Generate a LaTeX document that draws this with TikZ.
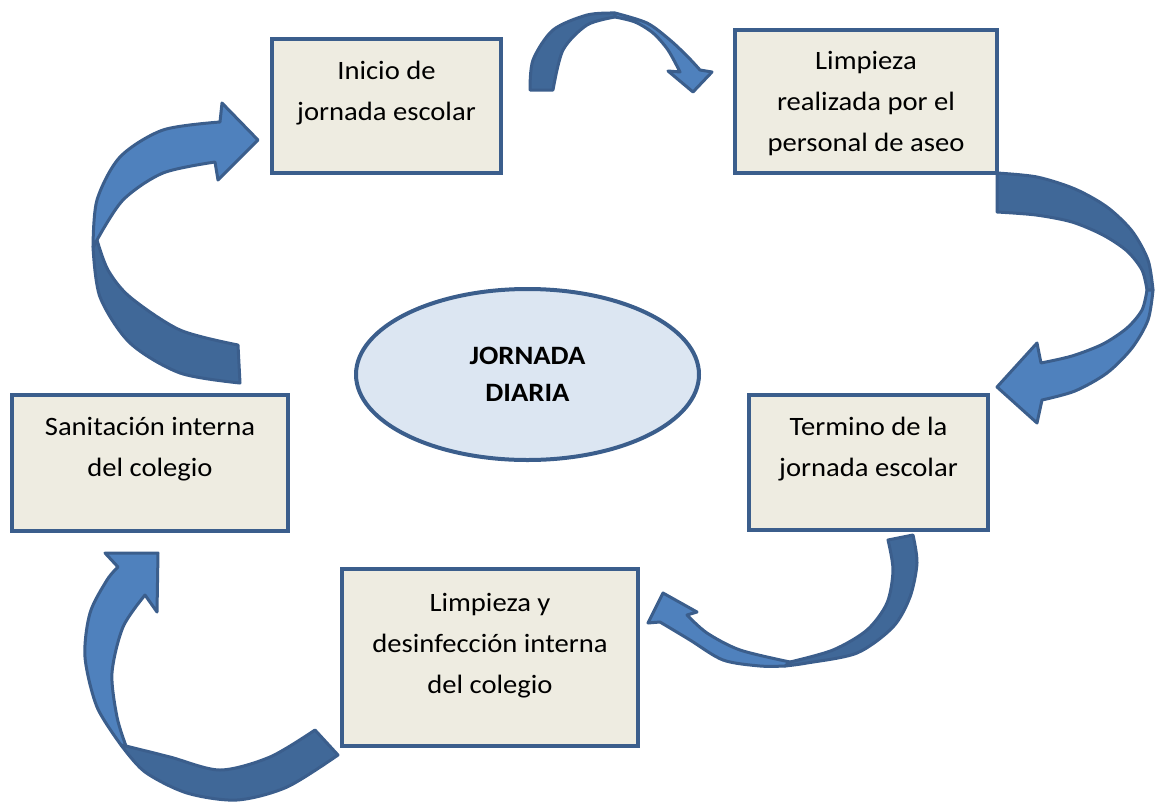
\documentclass[tikz,border=0pt]{standalone}
\usepackage{fontspec}
\setmainfont{Carlito}[FakeStretch=1.08]
\usetikzlibrary{positioning,shapes.geometric}
\definecolor{boxfill}{HTML}{EEECE1}
\definecolor{boxline}{HTML}{3B5E8C}
\definecolor{ovalfill}{HTML}{DCE6F2}
\definecolor{arrowlight}{HTML}{4F81BD}
\definecolor{arrowdark}{HTML}{406898}
\tikzset{
  stepbox/.style={draw=boxline, fill=boxfill, line width=4pt, inner sep=0pt},
  steptext/.style={align=center, inner sep=0pt,
    font=\fontsize{26.5}{41}\selectfont},
  oval/.style={ellipse, draw=boxline, fill=ovalfill, line width=4pt,
    inner sep=0pt, align=center, font=\bfseries\fontsize{26.5}{37}\selectfont},
  bandback/.style={fill=arrowdark, draw=boxline, line width=3pt, line join=round},
  bandfront/.style={fill=arrowlight, draw=boxline, line width=3pt, line join=round}
}

\begin{document}
\begin{tikzpicture}[x=1pt, y=-1pt]
\useasboundingbox (0,0) rectangle (1157,804);
% curved arrows: back of the band (dark), then front (light) with its head
% inicio -> limpieza
\path[bandback] plot[smooth] coordinates {(530,90) (533,60) (553,30) (587,15) (615,13)}
  -- plot[smooth] coordinates {(615,17) (587,25) (563,50) (553,90)} -- cycle;
\path[bandfront] plot[smooth] coordinates {(615,13) (647,23) (670,40) (688,57) (700,70)}
  -- (712,72) -- (693,92) -- (668,71)
  -- plot[smooth] coordinates {(680,72) (668,50) (653,33) (635,22) (615,17)} -- cycle;
% limpieza -> termino
\path[bandback] plot[smooth] coordinates {(997,173) (1037,177) (1075,189) (1107,207) (1132,231) (1148,260) (1153,290)}
  -- plot[smooth] coordinates {(1147,290) (1142,270) (1127,251) (1103,235) (1072,222) (1036,215) (997,212)} -- cycle;
\path[bandfront] plot[smooth] coordinates {(1153,290) (1148,320) (1132,348) (1107,373) (1075,391) (1042,400)}
  -- (1037,423) -- (997,387) -- (1037,343)
  -- plot[smooth] coordinates {(1041,363) (1072,356) (1103,344) (1127,328) (1142,310) (1147,290)} -- cycle;
% termino -> desinfeccion
\path[bandback] plot[smooth] coordinates {(913,535) (917,563) (910,597) (893,627) (857,653) (807,663) (785,666)}
  -- plot[smooth] coordinates {(790,662) (833,650) (867,630) (887,603) (893,570) (888,540)} -- cycle;
\path[bandfront] plot[smooth] coordinates {(785,666) (760,666) (723,660) (690,640) (660,622)}
  -- (648,623) -- (663,593) -- (697,612)
  -- plot[smooth] coordinates {(687,615) (707,633) (740,650) (790,662)} -- cycle;
% desinfeccion -> sanitacion
\path[bandback] plot[smooth] coordinates {(338,755) (287,787) (237,800) (187,793) (145,772) (121,745)}
  -- plot[smooth] coordinates {(126,746) (170,757) (220,770) (270,757) (315,730)} -- cycle;
\path[bandfront] plot[smooth] coordinates {(121,745) (97,707) (85,657) (90,613) (107,580) (118,567)}
  -- (105,553) -- (158,553) -- (157,612)
  -- plot[smooth] coordinates {(145,595) (123,627) (112,673) (117,717) (126,746)} -- cycle;
% sanitacion -> inicio
\path[bandback] plot[smooth] coordinates {(240,383) (180,373) (130,343) (100,297) (93,247)}
  -- plot[smooth] coordinates {(97,240) (108,270) (130,297) (180,330) (238,345)} -- cycle;
\path[bandfront] plot[smooth] coordinates {(93,247) (97,200) (120,157) (163,130) (220,122)}
  -- (222,103) -- (258,140) -- (218,180)
  -- plot[smooth] coordinates {(215,162) (163,173) (123,200) (97,240)} -- cycle;
% boxes
\node[stepbox, minimum width=229pt, minimum height=134pt] (inicio) at (386.5,106) {};
\node[steptext, below=24pt of inicio.north] (inicio-txt) {Inicio de\\jornada escolar};
\node[stepbox, minimum width=262pt, minimum height=143pt] (limpieza) at (866,101.5) {};
\node[steptext, below=23pt of limpieza.north] (limpieza-txt) {Limpieza\\realizada por el\\personal de aseo};
\node[stepbox, minimum width=239pt, minimum height=135pt] (termino) at (868.5,462) {};
\node[steptext, below=24pt of termino.north] (termino-txt) {Termino de la\\jornada escolar};
\node[stepbox, minimum width=296pt, minimum height=177pt] (desinf) at (490,657.5) {};
\node[steptext, below=26pt of desinf.north] (desinf-txt) {Limpieza y\\desinfección interna\\del colegio};
\node[stepbox, minimum width=276pt, minimum height=136pt] (sanit) at (150,463) {};
\node[steptext, below=24pt of sanit.north] (sanit-txt) {Sanitación interna\\del colegio};
\node[oval, minimum width=343pt, minimum height=171pt] (jornada) at (527.5,374.5) {JORNADA\\DIARIA};
\end{tikzpicture}
\end{document}
